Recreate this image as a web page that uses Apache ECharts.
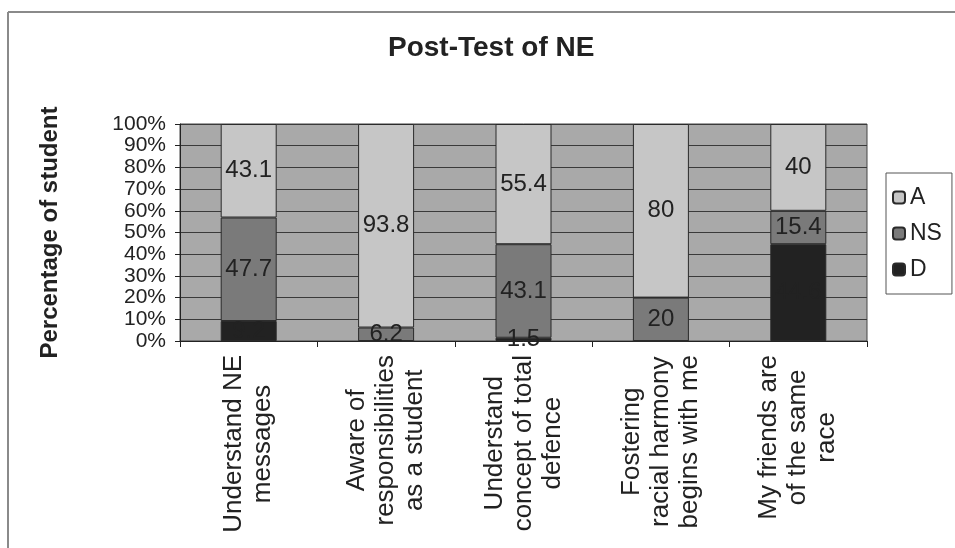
<!DOCTYPE html>
<html>
<head>
<meta charset="utf-8">
<script src="https://cdn.jsdelivr.net/npm/echarts@6/dist/echarts.min.js"></script>
<style>html,body{margin:0;padding:0;background:#fff}#c{width:955px;height:548px}</style>
</head>
<body>
<div id="c"></div>
<script>
var categories = [
  "Understand NE\nmessages",
  "Aware of\nresponsibilities\nas a student",
  "Understand\nconcept of total\ndefence",
  "Fostering\nracial harmony\nbegins with me",
  "My friends are\nof the same\nrace"
];
var seriesNames = ["A", "NS", "D"];
var valuesA  = [43.1, 93.8, 55.4, 80, 40];
var valuesNS = [47.7, 6.2, 43.1, 20, 15.4];
var valuesD  = [9.2, 0, 1.5, 0, 44.6];
var yTicks = [0, 10, 20, 30, 40, 50, 60, 70, 80, 90, 100];

var FONT = "'Liberation Sans', Arial, sans-serif";
var chart = echarts.init(document.getElementById('c'));

function lbl(p) { return p.value === 0 ? '' : String(p.value); }
var labelStyle = { show: true, position: 'inside', color: '#222', fontSize: 24, fontFamily: FONT, formatter: lbl };

function mk(name, data, color) {
  return {
    name: name, type: 'bar', stack: 'total', data: data,
    barWidth: 56,
    itemStyle: { color: color, borderColor: '#2a2a2a', borderWidth: 1 },
    label: labelStyle,
    emphasis: { disabled: true }
  };
}

chart.setOption({
  animation: false,
  backgroundColor: '#ffffff',
  title: {
    text: 'Post-Test of NE', left: 383, top: 29,
    textStyle: { fontFamily: FONT, fontSize: 28, fontWeight: 'bold', color: '#222' }
  },
  legend: {
    data: seriesNames, orient: 'vertical', left: 886, top: 173,
    padding: [13, 10, 13, 6], itemGap: 13, itemWidth: 12, itemHeight: 12,
    borderColor: '#555', borderWidth: 1,
    textStyle: { fontFamily: FONT, fontSize: 23, color: '#222' }
  },
  grid: {
    left: 180, top: 124, right: 88, bottom: 207,
    show: true, backgroundColor: '#a9a9a9', borderColor: '#444', borderWidth: 1
  },
  xAxis: {
    type: 'category', data: categories,
    axisLine: { lineStyle: { color: '#222', width: 1 } },
    axisTick: { show: true, length: 6, lineStyle: { color: '#222' } },
    axisLabel: {
      rotate: 90, margin: 14, interval: 0,
      formatter: function (v) { return v.split('\n').map(function (l) { return '{c|' + l + '}'; }).join('\n'); },
      rich: { c: { align: 'center', fontFamily: FONT, fontSize: 26, lineHeight: 29, color: '#222' } }
    }
  },
  yAxis: {
    type: 'value', min: 0, max: 100, interval: 10,
    name: 'Percentage of student', nameLocation: 'middle', nameGap: 118,
    nameTextStyle: { fontFamily: FONT, fontSize: 24, fontWeight: 'bold', color: '#222' },
    axisLine: { show: true, lineStyle: { color: '#222' } },
    axisTick: { show: true, length: 5, lineStyle: { color: '#222' } },
    axisLabel: {
      margin: 14, color: '#222', fontFamily: FONT, fontSize: 21, lineHeight: 20,
      showMinLabel: true, showMaxLabel: true, hideOverlap: false,
      formatter: function (v) { return yTicks.indexOf(v) >= 0 ? v + '%' : ''; }
    },
    splitLine: { show: true, lineStyle: { color: '#3a3a3a', width: 1 } }
  },
  graphic: [
    { type: 'line', shape: { x1: 8, y1: 12, x2: 955, y2: 12 }, style: { stroke: '#8a8a8a', lineWidth: 2 } },
    { type: 'line', shape: { x1: 8, y1: 12, x2: 8, y2: 548 }, style: { stroke: '#8a8a8a', lineWidth: 2 } }
  ],
  series: [
    mk('D', valuesD, '#222222'),
    mk('NS', valuesNS, '#7a7a7a'),
    mk('A', valuesA, '#c6c6c6')
  ]
});
</script>
</body>
</html>
